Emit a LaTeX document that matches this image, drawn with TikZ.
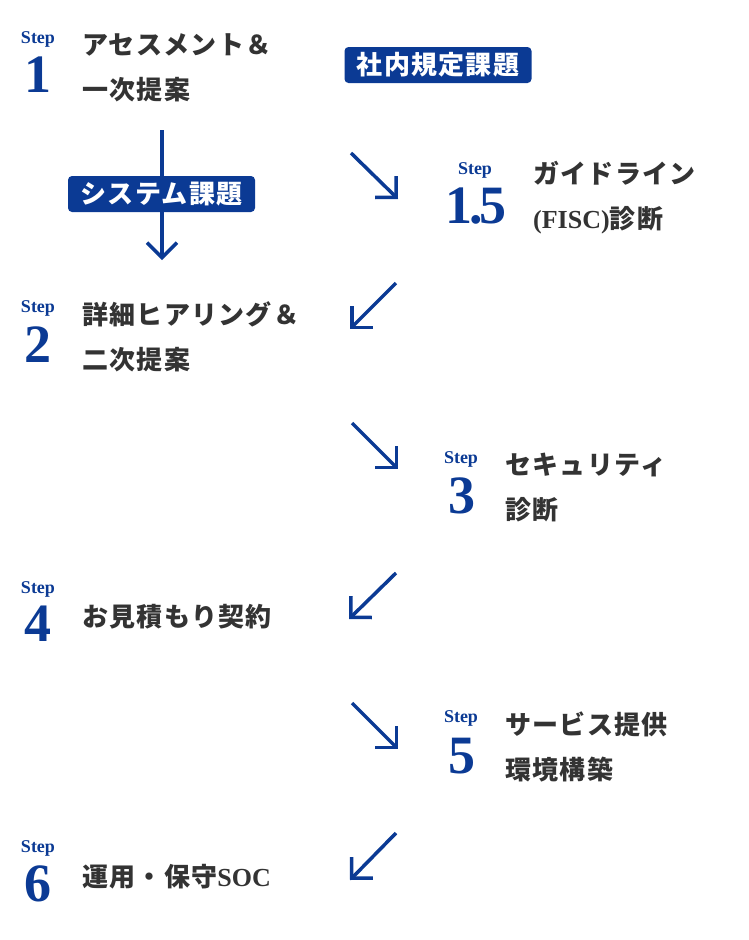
\documentclass[tikz,border=0pt]{standalone}
\usepackage{fontspec}
\usetikzlibrary{arrows.meta}
\setmainfont{Liberation Serif}
\newfontfamily\jp[LetterSpace=5]{Noto Sans CJK JP}
\newfontfamily\jptag[LetterSpace=5]{Noto Sans CJK JP}
\newfontfamily\lat{Liberation Serif}
\definecolor{brand}{HTML}{0B3A94}
\definecolor{ink}{HTML}{333333}
\tikzset{
  steplbl/.style={text=brand, font=\bfseries\fontsize{18}{18}\selectfont, inner sep=0pt},
  stepnum/.style={text=brand, font=\bfseries\fontsize{54}{54}\selectfont, inner sep=0pt},
  title/.style={text=ink, font=\jp\bfseries\fontsize{26}{45}\selectfont, anchor=west, align=left, inner sep=0pt},
  tag/.style={fill=brand, text=white, rounded corners=4pt, font=\jptag\bfseries\fontsize{26}{26}\selectfont, minimum width=187pt, minimum height=36pt, inner sep=0pt},
  flow/.style={draw=brand, line width=3.5pt, -{Straight Barb[length=15pt,width=30pt]}}
}
\begin{document}
\begin{tikzpicture}[x=1pt,y=-1pt]
\useasboundingbox (0,0) rectangle (748,940);
% step 1
\node[steplbl] (s1) at (38,39) {Step};
\node[stepnum] (n1) at (38,75) {1};
\node[title] (t1) at (82,67.5) {アセスメント＆\\一次提案};
% tags
\node[tag] (tagA) at (438,65) {社内規定課題};
\coordinate (v1a) at (162,130);
\coordinate (v1b) at (162,260);
\draw[flow] (v1a) -- (v1b);
\node[tag] (tagB) at (161.5,194) {システム課題};
% step 1.5
\coordinate (a1a) at (351,153);
\coordinate (a1b) at (398,199);
\draw[flow] (a1a) -- (a1b);
\node[steplbl] (s15) at (475,170) {Step};
\node[stepnum] (n15) at (476,206) {1\kern-3pt.\kern-3pt5};
\node[title] (t15) at (533,197.5) {ガイドライン\\{\lat\bfseries (FISC)}診断};
% step 2
\coordinate (a2a) at (396,283);
\coordinate (a2b) at (350,329);
\draw[flow] (a2a) -- (a2b);
\node[steplbl] (s2) at (38,308) {Step};
\node[stepnum] (n2) at (38,345) {2};
\node[title] (t2) at (82,337) {詳細ヒアリング＆\\二次提案};
% step 3
\coordinate (a3a) at (352,423);
\coordinate (a3b) at (398,469);
\draw[flow] (a3a) -- (a3b);
\node[steplbl] (s3) at (461,459) {Step};
\node[stepnum] (n3) at (462,496) {3};
\node[title] (t3) at (505,487.5) {セキュリティ\\診断};
% step 4
\coordinate (a4a) at (396,573);
\coordinate (a4b) at (349,619);
\draw[flow] (a4a) -- (a4b);
\node[steplbl] (s4) at (38,589) {Step};
\node[stepnum] (n4) at (38,624) {4};
\node[title] (t4) at (82,617) {お見積もり契約};
% step 5
\coordinate (a5a) at (352,703);
\coordinate (a5b) at (398,749);
\draw[flow] (a5a) -- (a5b);
\node[steplbl] (s5) at (461,718) {Step};
\node[stepnum] (n5) at (462,756) {5};
\node[title] (t5) at (505,747) {サービス提供\\環境構築};
% step 6
\coordinate (a6a) at (396,833);
\coordinate (a6b) at (350,880);
\draw[flow] (a6a) -- (a6b);
\node[steplbl] (s6) at (38,848) {Step};
\node[stepnum] (n6) at (38,884) {6};
\node[title] (t6) at (82,877) {運用・保守{\lat\bfseries SOC}};
\end{tikzpicture}
\end{document}
